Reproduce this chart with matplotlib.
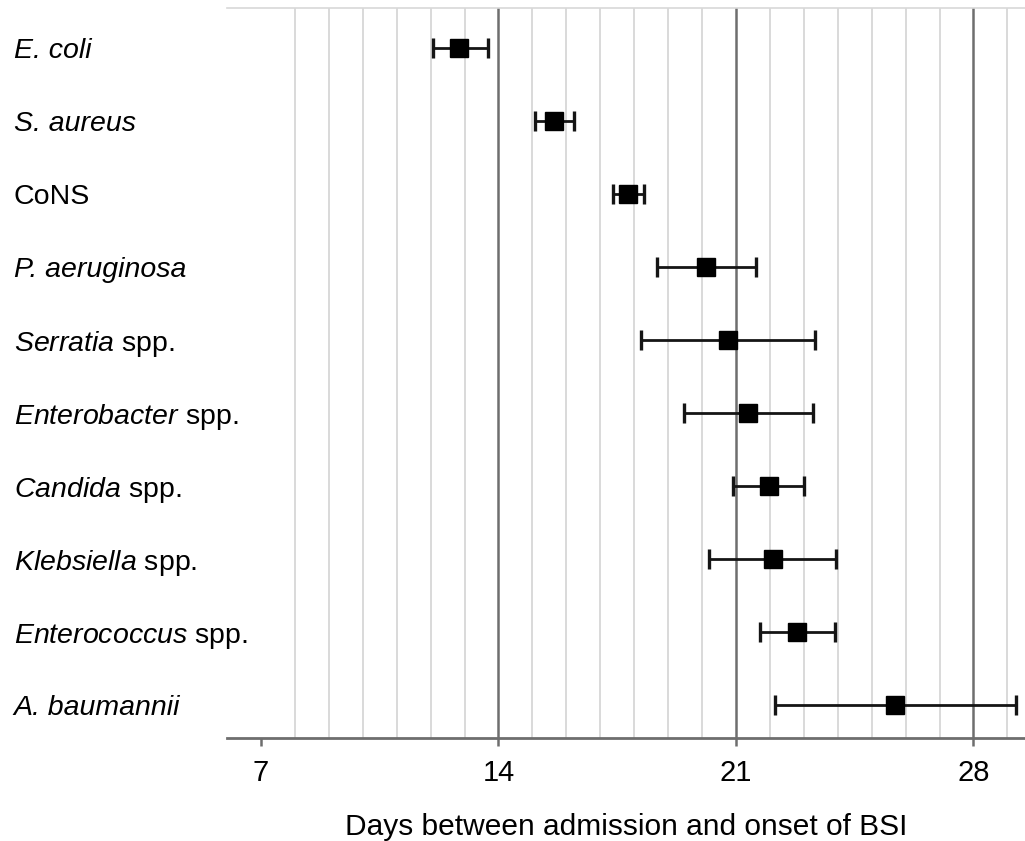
import numpy as np
import matplotlib.pyplot as plt

plt.rcParams['font.family'] = ['Liberation Sans', 'DejaVu Sans']
plt.rcParams['mathtext.fontset'] = 'custom'
plt.rcParams['mathtext.rm'] = 'Liberation Sans'
plt.rcParams['mathtext.it'] = 'Liberation Sans:italic'

labels = ['E. coli', 'S. aureus', 'CoNS', 'P. aeruginosa',
          r'$\it{Serratia}$ spp.', r'$\it{Enterobacter}$ spp.', r'$\it{Candida}$ spp.',
          r'$\it{Klebsiella}$ spp.', r'$\it{Enterococcus}$ spp.', 'A. baumannii']
all_italic = ['E. coli', 'S. aureus', 'P. aeruginosa', 'A. baumannii']
mean_days = [12.85, 15.64, 17.82, 20.13, 20.77, 21.36, 21.97, 22.09, 22.80, 25.70]
ci_low = [12.06, 15.08, 17.37, 18.67, 18.20, 19.46, 20.90, 20.22, 21.72, 22.14]
ci_high = [13.68, 16.23, 18.28, 21.59, 23.32, 23.26, 23.01, 23.96, 23.93, 29.24]

mean_days = np.array(mean_days)
err = [mean_days - np.array(ci_low), np.array(ci_high) - mean_days]
ypos = np.arange(len(labels))

fig = plt.figure(figsize=(10.25, 8.41), dpi=100)
ax = fig.add_axes([227/1025, 1 - 738/841, 798/1025, 730/841])

# day grid: light for every day, dark every week
for d in range(8, 30):
    if d % 7 == 0:
        ax.axvline(d, color='#6e6e6e', lw=1.8, zorder=1)
    else:
        ax.axvline(d, color='#cfcfcf', lw=1.1, zorder=1)

ax.errorbar(mean_days, ypos, xerr=err, fmt='s', color='black', ecolor='#151515',
            elinewidth=2, capsize=7.5, capthick=2.4, markersize=12.5, zorder=3)

ax.set_xlim(6.0, 29.52)
ax.set_ylim(9.452, -0.548)
ax.set_xticks([7, 14, 21, 28])
ax.tick_params(axis='x', length=6, width=1.8, color='#6e6e6e', pad=9, labelsize=21)
ax.set_yticks(ypos)
ax.set_yticklabels(labels, fontsize=20.5, ha='left')
for t in ax.get_yticklabels():
    if t.get_text() in all_italic:
        t.set_fontstyle('italic')
ax.tick_params(axis='y', length=0, pad=153.5)

for s in ['left', 'right']:
    ax.spines[s].set_visible(False)
ax.spines['top'].set_color('#d8d8d8')
ax.spines['top'].set_linewidth(1.2)
ax.spines['bottom'].set_color('#6e6e6e')
ax.spines['bottom'].set_linewidth(2)

ax.set_xlabel('Days between admission and onset of BSI', fontsize=21.5, labelpad=19)

fig.savefig('out.png', dpi=100)
